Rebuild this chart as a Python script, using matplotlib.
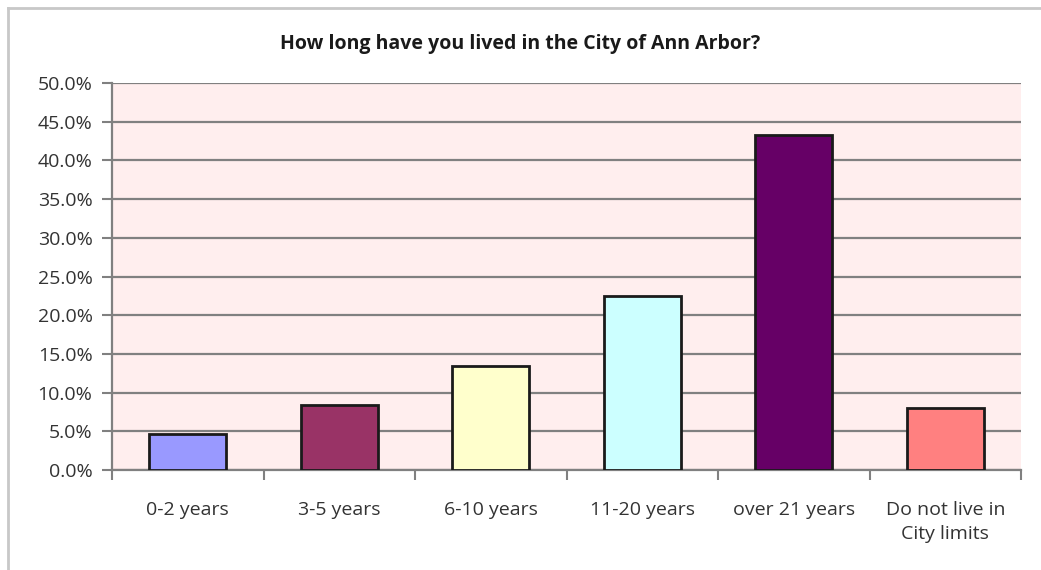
import matplotlib
matplotlib.use("Agg")
import matplotlib.pyplot as plt
from matplotlib.ticker import FuncFormatter, FixedLocator
from matplotlib.lines import Line2D

categories = ["0-2 years", "3-5 years", "6-10 years", "11-20 years", "over 21 years", "Do not live in\nCity limits"]
values = [4.6, 8.4, 13.4, 22.5, 43.3, 8.0]
colors = ["#9999FF", "#993366", "#FFFFCC", "#CCFFFF", "#660066", "#FF8080"]
yticks = [0, 5, 10, 15, 20, 25, 30, 35, 40, 45, 50]

plt.rcParams['font.family'] = ['Open Sans', 'DejaVu Sans']

W, H = 1041, 570
fig = plt.figure(figsize=(W / 100, H / 100), dpi=100)
fig.patch.set_facecolor("white")
ax = fig.add_axes([112 / W, 1 - 470 / H, (1021 - 112) / W, (470 - 83) / H])
ax.set_facecolor("#FFEEEE")

x = list(range(len(categories)))
ax.bar(x, values, width=0.51, color=colors, edgecolor="#1a1a1a", linewidth=2, zorder=3)

ax.set_xlim(-0.5, len(categories) - 0.5)
ax.set_ylim(0, 50)
ax.set_yticks(yticks)
ax.yaxis.set_major_formatter(FuncFormatter(lambda v, p: f"{v:.1f}%"))
ax.yaxis.grid(True, color="#808080", linewidth=1.6, zorder=1)
ax.set_axisbelow(True)

ax.set_xticks(x)
ax.set_xticklabels(categories, linespacing=1.45)
ax.tick_params(axis="x", length=0, pad=22, labelsize=14, colors="#333333")
ax.xaxis.set_minor_locator(FixedLocator([i - 0.5 for i in range(len(categories) + 1)]))
ax.tick_params(axis="x", which="minor", length=7, width=1.5, color="#808080")
ax.tick_params(axis="y", length=7, width=1.5, color="#808080", labelsize=14, labelcolor="#333333", pad=7)

for s in ["top", "right"]:
    ax.spines[s].set_visible(False)
for s in ["left", "bottom"]:
    ax.spines[s].set_color("#808080")
    ax.spines[s].set_linewidth(1.6)

fig.text(0.5, 1 - 44 / H, "How long have you lived in the City of Ann Arbor?", ha="center", va="center",
         fontsize=14, fontweight="bold", color="#1a1a1a")

fig.lines.append(Line2D([8 / W, 1.0], [1 - 8 / H, 1 - 8 / H], transform=fig.transFigure,
                        color="#C8C8C8", linewidth=2))
fig.lines.append(Line2D([8 / W, 8 / W], [0, 1 - 8 / H], transform=fig.transFigure,
                        color="#C8C8C8", linewidth=2))

fig.savefig("out.png", dpi=100)
